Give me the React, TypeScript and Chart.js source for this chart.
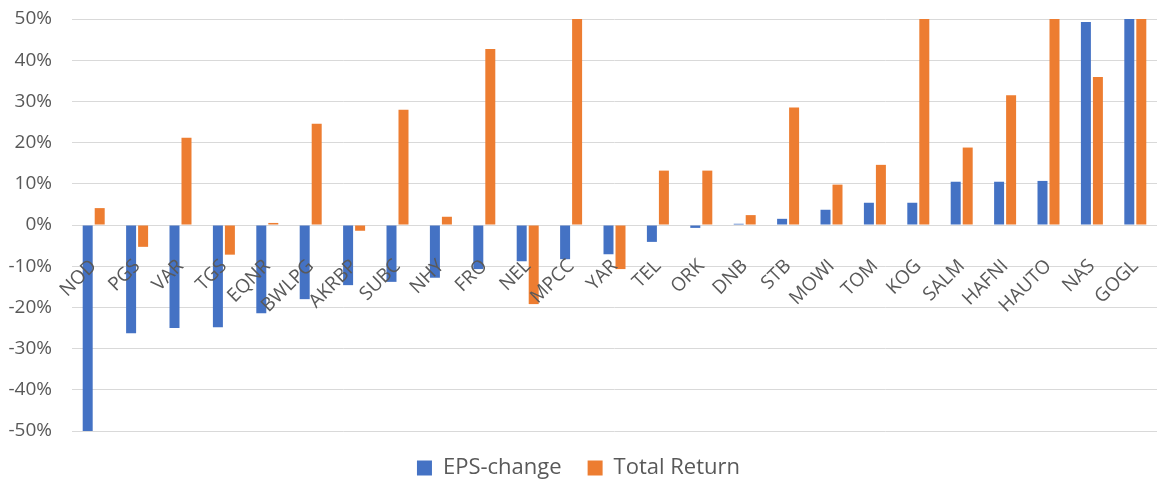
import React, { useEffect, useRef } from "react";
import { Chart, registerables } from "chart.js";

Chart.register(...registerables);

const categories = ["NOD", "PGS", "VAR", "TGS", "EQNR", "BWLPG", "AKRBP", "SUBC", "NHY", "FRO", "NEL", "MPCC", "YAR", "TEL", "ORK", "DNB", "STB", "MOWI", "TOM", "KOG", "SALM", "HAFNI", "HAUTO", "NAS", "GOGL"];
const epsChange = [-50, -26.3, -25.0, -24.8, -21.4, -18.0, -14.6, -13.8, -12.8, -10.7, -8.8, -8.3, -7.1, -4.1, -0.7, 0.3, 1.5, 3.7, 5.4, 5.4, 10.5, 10.5, 10.7, 49.3, 50];
const totalReturn = [4.1, -5.3, 21.2, -7.2, 0.5, 24.6, -1.4, 28.0, 2.0, 42.7, -19.2, 50, -10.7, 13.2, 13.2, 2.4, 28.5, 9.8, 14.6, 50, 18.8, 31.5, 50, 35.9, 50];
const yTicks = [-50, -40, -30, -20, -10, 0, 10, 20, 30, 40, 50];

const FONT = "'Open Sans', 'Noto Sans', sans-serif";
const TEXT = "#595959";

export default function App() {
  const ref = useRef<HTMLCanvasElement | null>(null);
  useEffect(() => {
    document.body.style.margin = "0";
    const ctx = ref.current!;
    const chart = new Chart(ctx, {
      type: "bar",
      data: {
        labels: categories,
        datasets: [
          { label: "EPS-change", data: epsChange, backgroundColor: "#4472C4", categoryPercentage: 0.553, barPercentage: 0.833 },
          { label: "Total Return", data: totalReturn, backgroundColor: "#ED7D31", categoryPercentage: 0.553, barPercentage: 0.833 },
        ],
      },
      options: {
        animation: false,
        responsive: false,
        maintainAspectRatio: false,
        layout: { padding: { top: 19, right: 15, left: 0, bottom: 8 } },
        plugins: {
          tooltip: { enabled: false },
          legend: {
            position: "bottom",
            labels: {
              font: { family: FONT, size: 22 },
              color: TEXT,
              boxWidth: 15,
              boxHeight: 15,
              padding: 26,
            },
          },
        },
        scales: {
          x: {
            position: { y: 0 } as any,
            afterFit: (s: any) => { s.paddingTop = 0; s.paddingBottom = 0; s.paddingLeft = 0; s.paddingRight = 0; },
            grid: { display: false },
            border: { display: false },
            ticks: {
              z: 1,
              autoSkip: false,
              minRotation: 45,
              maxRotation: 45,
              color: TEXT,
              font: { family: FONT, size: 19 },
              padding: 22,
            },
          },
          y: {
            min: -50,
            max: 50,
            afterFit: (s: any) => { s.width = 72; s.paddingTop = 0; s.paddingBottom = 0; },
            afterBuildTicks: (s: any) => { s.ticks = yTicks.map((v) => ({ value: v })); },
            grid: { color: "#d9d9d9", drawTicks: false, lineWidth: 1 },
            border: { display: false },
            ticks: {
              color: TEXT,
              font: { family: FONT, size: 19 },
              padding: 20,
              callback: (v: any) => `${v}%`,
            },
          },
        },
      },
    });
    return () => chart.destroy();
  }, []);
  return (
    <div style={{ width: 1172, height: 497 }}>
      <canvas ref={ref} width={1172} height={497} style={{ width: 1172, height: 497, display: "block" }} />
    </div>
  );
}
